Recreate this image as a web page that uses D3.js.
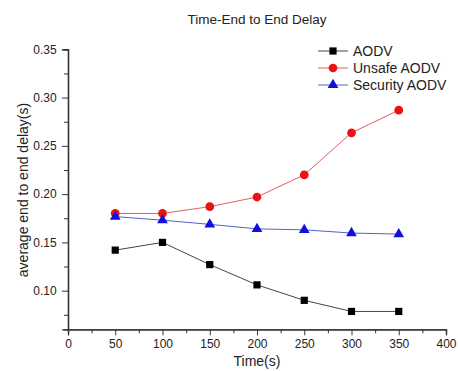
<!DOCTYPE html>
<html>
<head>
<meta charset="utf-8">
<script src="https://cdn.jsdelivr.net/npm/d3@7.9.0/dist/d3.min.js"></script>
<style>
  body { margin: 0; background: #fff; }
  svg { font-family: "Liberation Sans", Arial, sans-serif; }
</style>
</head>
<body>
<svg id="chart" width="458" height="371"></svg>
<script>
// data
const times = [50, 100, 150, 200, 250, 300, 350];
const aodv = [0.142, 0.150, 0.127, 0.106, 0.090, 0.0785, 0.0785];
const unsafeAodv = [0.180, 0.180, 0.187, 0.197, 0.220, 0.2635, 0.287];
const securityAodv = [0.1767, 0.173, 0.1687, 0.164, 0.163, 0.1597, 0.1586];
const xTicks = [0, 50, 100, 150, 200, 250, 300, 350, 400];
const yTicks = [0.10, 0.15, 0.20, 0.25, 0.30, 0.35];

const series = [
  { name: 'AODV', values: aodv, line: '#444', fill: '#000', shape: d3.symbolSquare, size: 52 },
  { name: 'Unsafe AODV', values: unsafeAodv, line: '#e06060', fill: '#ee1111', shape: d3.symbolCircle, size: 60 },
  { name: 'Security AODV', values: securityAodv, line: '#5560d0', fill: '#1010dd', shape: d3.symbolTriangle, size: 50 }
];

const svg = d3.select('#chart');
const plotLeft = 68, plotRight = 446, plotTop = 49.3, plotBottom = 329.3;

const x = d3.scaleLinear().domain([0, 400]).range([plotLeft, plotRight]);
const y = d3.scaleLinear().domain([0.06, 0.35]).range([plotBottom, plotTop]);

// x axis (minor ticks then major ticks)
const xAxis = svg.append('g').attr('transform', `translate(0,${plotBottom})`);
xAxis.append('g').call(d3.axisBottom(x).tickValues(d3.range(25, 400, 50)).tickSize(4).tickFormat(''));
xAxis.append('g').call(d3.axisBottom(x).tickValues(xTicks).tickSize(6).tickFormat(d3.format('d')));
xAxis.selectAll('path.domain').attr('stroke', '#333').attr('stroke-width', 1.3);
xAxis.selectAll('.tick line').attr('stroke', '#333');
xAxis.selectAll('text').attr('font-size', 12).attr('fill', '#222').attr('dy', '0.85em');

// y axis
const yAxis = svg.append('g').attr('transform', `translate(${plotLeft},0)`);
yAxis.append('g').call(d3.axisLeft(y).tickValues([0.075, 0.125, 0.175, 0.225, 0.275, 0.325]).tickSize(4).tickFormat(''));
yAxis.append('g').call(d3.axisLeft(y).tickValues(yTicks).tickSize(6).tickFormat(d3.format('.2f')));
yAxis.selectAll('path.domain').attr('stroke', '#333').attr('stroke-width', 1.3);
yAxis.selectAll('.tick line').attr('stroke', '#333');
yAxis.selectAll('text').attr('font-size', 12).attr('fill', '#222').attr('dx', '-0.2em');

// lines and markers
const line = d3.line().x((d, i) => x(times[i])).y(d => y(d));
series.forEach(s => {
  svg.append('path')
    .attr('d', line(s.values))
    .attr('fill', 'none')
    .attr('stroke', s.line)
    .attr('stroke-width', 1);
  svg.selectAll(null)
    .data(s.values)
    .enter().append('path')
    .attr('d', d3.symbol().type(s.shape).size(s.size))
    .attr('transform', (d, i) => `translate(${x(times[i])},${y(d)})`)
    .attr('fill', s.fill);
});

// legend
const legend = svg.append('g').attr('transform', 'translate(318,51)');
series.forEach((s, i) => {
  const g = legend.append('g').attr('transform', `translate(0,${i * 17})`);
  g.append('line').attr('x1', 0).attr('x2', 30).attr('stroke', s.line).attr('stroke-width', 1);
  g.append('path').attr('d', d3.symbol().type(s.shape).size(s.size)).attr('transform', 'translate(15,0)').attr('fill', s.fill);
  g.append('text').attr('x', 35).attr('dy', '0.36em').attr('font-size', 14).attr('fill', '#222').text(s.name);
});

// titles
svg.append('text').attr('x', 257).attr('y', 24).attr('text-anchor', 'middle')
  .attr('font-size', 13.5).attr('fill', '#222').text('Time-End to End Delay');
svg.append('text').attr('x', 257).attr('y', 366).attr('text-anchor', 'middle')
  .attr('font-size', 14).attr('fill', '#222').text('Time(s)');
svg.append('text').attr('transform', 'translate(28,190) rotate(-90)').attr('text-anchor', 'middle')
  .attr('font-size', 14).attr('fill', '#222').text('average end to end delay(s)');
</script>
</body>
</html>
